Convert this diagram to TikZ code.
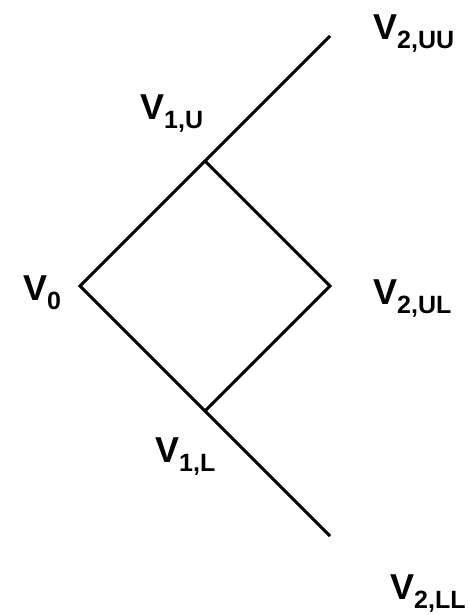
\documentclass[tikz,border=0pt]{standalone}
\usepackage{fontspec}
\setmainfont{Liberation Sans}
\usepackage{tikz}
\usetikzlibrary{positioning}

% value label: bold V with a lowered bold index
\newcommand{\vlab}[1]{\textbf{V}\raisebox{-9pt}{\fontsize{25}{25}\selectfont\bfseries #1}}

\begin{document}
\begin{tikzpicture}[
x=1pt,y=-1pt,
branch/.style={line width=3pt,black},
vlabel/.style={inner sep=0pt,anchor=base west,font=\fontsize{36}{36}\selectfont}
]
\useasboundingbox (0,0) rectangle (468,615);

% tree points
\coordinate (v0) at (80,286);
\coordinate (v1u) at (205,161);
\coordinate (v1l) at (205,411);
\coordinate (v2uu) at (330,36);
\coordinate (v2ul) at (330,286);
\coordinate (v2ll) at (330,536);

\draw[branch] (v2uu) -- (v1u) -- (v0) -- (v1l) -- (v2ll);
\draw[branch] (v1u) -- (v2ul) -- (v1l);

% labels
\node[vlabel] (lv0) at (23,300) {\vlab{0}};
\node[vlabel] (lv1u) at (140,120) {\vlab{1,U}};
\node[vlabel] (lv1l) at (155,462) {\vlab{1,L}};
\node[vlabel] (lv2uu) at (373,40) {\vlab{2,UU}};
\node[vlabel] (lv2ul) at (373,304) {\vlab{2,UL}};
\node[vlabel] (lv2ll) at (390,599) {\vlab{2,LL}};

\end{tikzpicture}
\end{document}
